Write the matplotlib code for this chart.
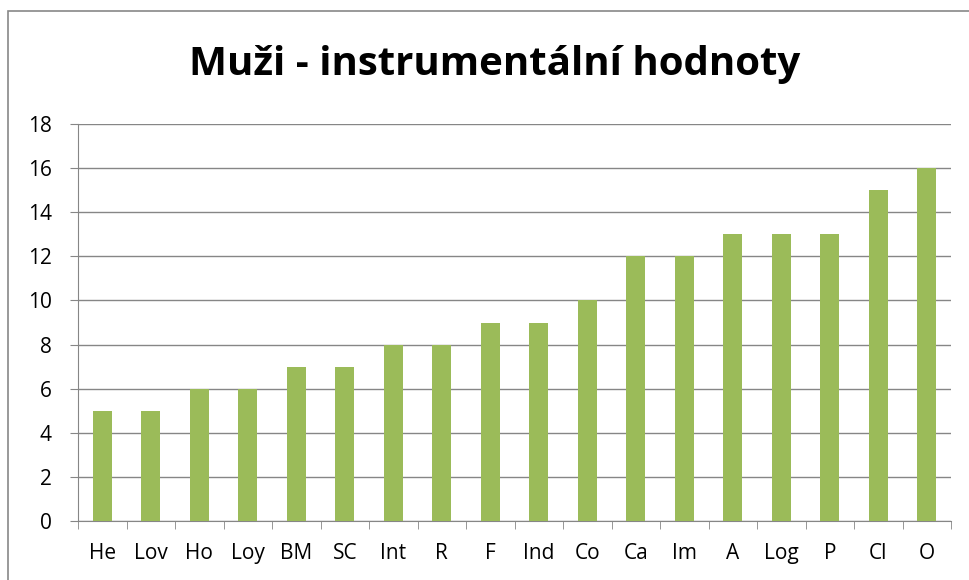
import matplotlib
matplotlib.use("Agg")
import matplotlib.pyplot as plt
from matplotlib.patches import Rectangle

categories = ["He", "Lov", "Ho", "Loy", "BM", "SC", "Int", "R", "F", "Ind",
              "Co", "Ca", "Im", "A", "Log", "P", "Cl", "O"]
values = [5, 5, 6, 6, 7, 7, 8, 8, 9, 9, 10, 12, 12, 13, 13, 13, 15, 16]
yticks = list(range(0, 19, 2))
title = "Muži - instrumentální hodnoty"

W, H = 969, 580
fig = plt.figure(figsize=(W / 100, H / 100), dpi=100)
fig.patch.set_facecolor("white")

# chart border (left/top visible, rest cropped)
fig.patches.append(Rectangle((8 / W, -0.1), 1.2, (H - 11) / H + 0.1,
                             transform=fig.transFigure, fill=False,
                             edgecolor="#888888", linewidth=1.2, clip_on=False))

left, right, top, bottom = 78, 951, 124, 521
ax = fig.add_axes([left / W, 1 - bottom / H, (right - left) / W, (bottom - top) / H])

x = list(range(len(categories)))
ax.bar(x, values, width=0.4, color="#9BBB59", zorder=3)
ax.set_xlim(-0.5, len(categories) - 0.5)
ax.set_ylim(0, 18)
ax.set_yticks(yticks)
ax.set_yticklabels([str(t) for t in yticks], fontsize=15, family="Open Sans")
ax.set_xticks(x)
ax.set_xticklabels(categories, fontsize=15, family="Open Sans")
ax.tick_params(axis="x", length=0, pad=16)
ax.tick_params(axis="y", length=6, color="#868686", pad=13, direction="out")

# category separator ticks
ax.set_xticks([i - 0.5 for i in range(len(categories) + 1)], minor=True)
ax.tick_params(axis="x", which="minor", length=6, color="#868686", direction="out")

ax.yaxis.grid(True, color="#868686", linewidth=1, zorder=0)
for s in ["top", "right"]:
    ax.spines[s].set_visible(False)
ax.spines["left"].set_color("#868686")
ax.spines["bottom"].set_color("#868686")

fig.text(495 / W, 1 - 65 / H, title, ha="center", va="center",
         fontsize=29, fontweight="bold", family="Open Sans")

fig.savefig("out.png", dpi=100)
